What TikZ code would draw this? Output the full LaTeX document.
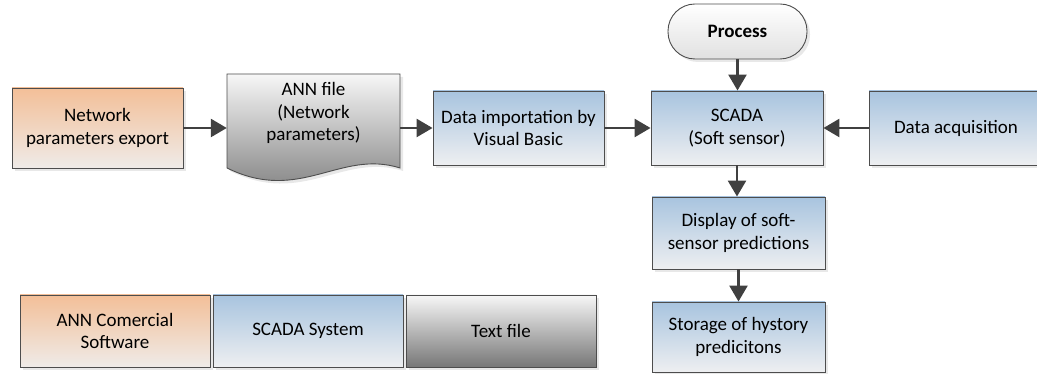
\documentclass[tikz,border=0pt]{standalone}
\usepackage{fontspec}
\setmainfont{Carlito}
\usetikzlibrary{arrows.meta,shadows}
\definecolor{edge}{HTML}{4D4D4D}
\definecolor{arrowgray}{HTML}{404040}
\definecolor{orangetop}{HTML}{F3BF98}
\definecolor{orangebot}{HTML}{EFEBE8}
\definecolor{bluetop}{HTML}{A8C4DF}
\definecolor{bluebot}{HTML}{EEEFF1}
\definecolor{graytop}{HTML}{F7F7F7}
\definecolor{graybot}{HTML}{777777}
\tikzset{
  x=1pt, y=1pt,
  every node/.style={font=\fontsize{19}{22.5}\selectfont, align=center},
  boxshadow/.style={drop shadow={shadow xshift=3pt, shadow yshift=-3pt, fill=black!20, opacity=0.45}},
  basebox/.style={draw=edge, line width=0.9pt, inner sep=2pt, boxshadow},
  annbox/.style={basebox, top color=orangetop, bottom color=orangebot},
  scadabox/.style={basebox, top color=bluetop, bottom color=bluebot},
  textbox/.style={basebox, top color=graytop, bottom color=graybot},
  termbox/.style={basebox, rounded corners=27pt, top color=white, bottom color=black!12},
  flow/.style={draw=arrowgray, line width=2.6pt, -{Triangle[length=16pt,width=18pt]}}
}
\begin{document}
\begin{tikzpicture}
\useasboundingbox (0,0) rectangle (1037,374);

% main row
\node[annbox, minimum width=171pt, minimum height=80pt] (npe) at (97.5,246) {Network\\parameters export};

% document shape for the ANN file
\fill[black!20, opacity=0.45, shift={(3,-3)}]
  (227,300) -- (400,300) -- (400,206) .. controls (340,225) and (300,170) .. (227,206) -- cycle;
\draw[draw=edge, line width=0.9pt, top color=graytop, bottom color=graybot]
  (227,300) -- (400,300) -- (400,206) .. controls (340,225) and (300,170) .. (227,206) -- cycle;
\node[minimum width=173pt, minimum height=94pt, inner sep=0pt] (ann) at (313.5,253) {};
\node (anntext) at (313.5,261) {ANN file\\(Network\\parameters)};

\node[scadabox, minimum width=171pt, minimum height=74pt] (dimp) at (518.5,246) {Data importation by\\Visual Basic};
\node[scadabox, minimum width=172pt, minimum height=74pt] (scada) at (737,246) {SCADA\\(Soft sensor)};
\node[scadabox, minimum width=174pt, minimum height=74pt] (dacq) at (956,246) {Data acquisition};

% process terminator
\node[termbox, minimum width=139pt, minimum height=55pt] (proc) at (737.5,342.5) {\bfseries Process};

% outputs below the SCADA block
\node[scadabox, minimum width=173pt, minimum height=72pt] (disp) at (738.5,141) {Display of soft-\\sensor predictions};
\node[scadabox, minimum width=173pt, minimum height=70pt] (stor) at (738.5,37) {Storage of hystory\\predicitons};

% legend
\node[annbox, minimum width=190pt, minimum height=72pt] (lega) at (115,43) {ANN Comercial\\Software};
\node[scadabox, minimum width=190pt, minimum height=72pt] (legs) at (308,43) {SCADA System};
\node[textbox, minimum width=190pt, minimum height=72pt] (legt) at (501,43) {Text file};

% connectors
\draw[flow] (npe.east) -- (npe.east -| ann.west);
\draw[flow] (ann.east |- dimp.west) -- (dimp.west);
\draw[flow] (dimp.east) -- (scada.west);
\draw[flow] (dacq.west) -- (scada.east);
\draw[flow] (proc.south) -- (proc.south |- scada.north);
\draw[flow] (scada.south) -- (scada.south |- disp.north);
\draw[flow] (disp.south) -- (disp.south |- stor.north);
\end{tikzpicture}
\end{document}
